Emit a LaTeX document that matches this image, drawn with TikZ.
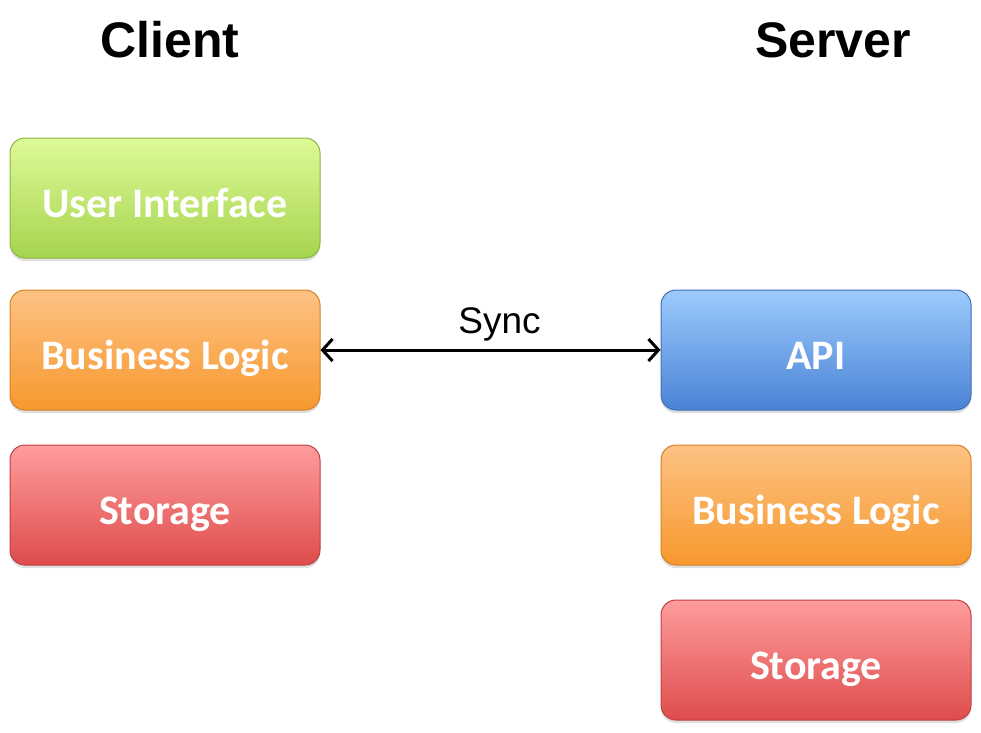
\documentclass[tikz,border=0pt]{standalone}
\usepackage{fontspec}
\setsansfont{Liberation Sans}
\newfontfamily\boxfont{Carlito}
\usetikzlibrary{arrows.meta, positioning, shadows}

\definecolor{uitop}{HTML}{DDFA98}
\definecolor{uibot}{HTML}{A6D44E}
\definecolor{bltop}{HTML}{FDC283}
\definecolor{blbot}{HTML}{F7982E}
\definecolor{sttop}{HTML}{FF9C9C}
\definecolor{stbot}{HTML}{DE4C4C}
\definecolor{aptop}{HTML}{9DCBFD}
\definecolor{apbot}{HTML}{4A83D6}

\begin{document}
\begin{tikzpicture}[x=1pt, y=-1pt,
  layer/.style={rounded corners=15pt, minimum width=310pt, minimum height=120pt,
    text height=46pt, text depth=7pt,
    line width=1pt, font=\boxfont\bfseries\fontsize{42}{48}\selectfont, text=white,
    drop shadow={shadow xshift=0pt, shadow yshift=-3pt, opacity=0.25}},
  title/.style={font=\sffamily\bfseries\fontsize{50}{56}\selectfont}]
  \useasboundingbox (0,0) rectangle (981,732);

  % Column titles
  \node[title] (client) at (170,40) {Client};
  \node[title] (server) at (833,40) {Server};

  % Client layers
  \node[layer, draw=uibot!85!black, top color=uitop, bottom color=uibot] (ui) at (165,198) {User Interface};
  \node[layer, draw=blbot!85!black, top color=bltop, bottom color=blbot] (clogic) at (165,350) {Business Logic};
  \node[layer, draw=stbot!85!black, top color=sttop, bottom color=stbot] (cstore) at (165,505) {Storage};

  % Server layers
  \node[layer, draw=apbot!85!black, top color=aptop, bottom color=apbot] (api) at (816,350) {API};
  \node[layer, draw=blbot!85!black, top color=bltop, bottom color=blbot] (slogic) at (816,505) {Business Logic};
  \node[layer, draw=stbot!85!black, top color=sttop, bottom color=stbot] (sstore) at (816,660) {Storage};

  % Sync
  \draw[line width=3pt, {Straight Barb[length=10pt, width=22pt]}-{Straight Barb[length=10pt, width=22pt]}]
    (clogic.east) -- node[above=4pt, xshift=9pt, font=\sffamily\fontsize{37}{42}\selectfont] (sync) {Sync} (api.west);
\end{tikzpicture}
\end{document}
